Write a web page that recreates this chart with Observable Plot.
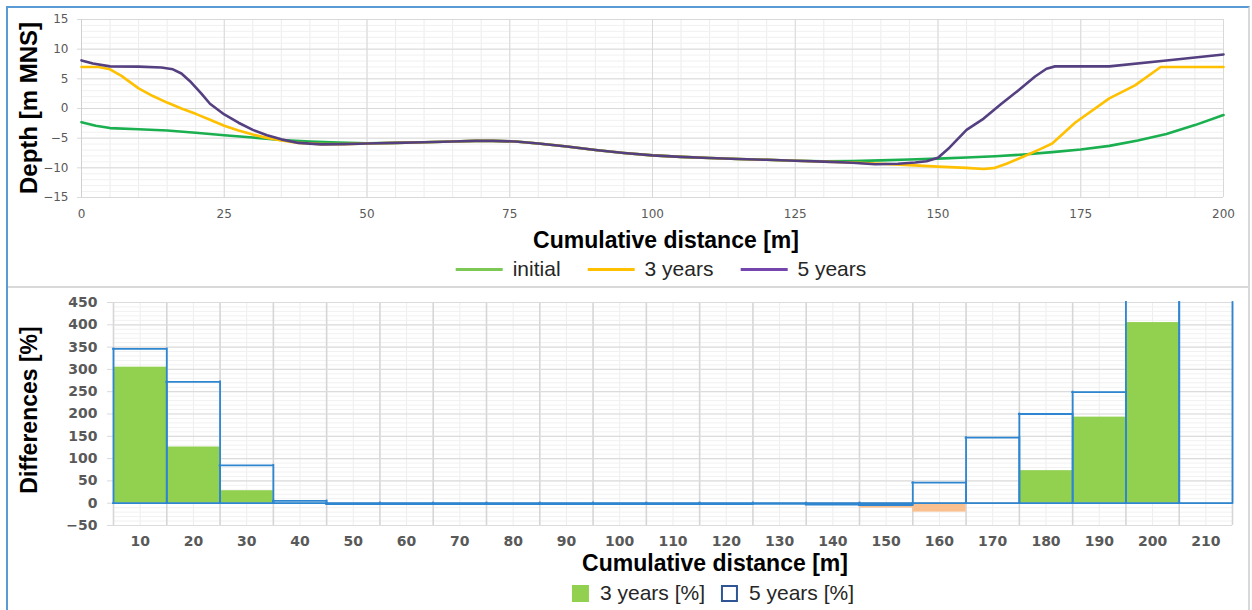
<!DOCTYPE html>
<html><head><meta charset="utf-8">
<script src="https://cdn.jsdelivr.net/npm/d3@7"></script>
<script src="https://cdn.jsdelivr.net/npm/@observablehq/plot@0.6"></script>
<style>
body{margin:0;background:#fff;width:1252px;height:610px;overflow:hidden;position:relative;font-family:"Liberation Sans",Arial,sans-serif;color:#000;}
.abs{position:absolute;}
.ytitle{position:absolute;transform:translate(-50%,-50%) rotate(-90deg);white-space:nowrap;font-weight:bold;}
.xtitle{position:absolute;transform:translate(-50%,-50%);white-space:nowrap;font-weight:bold;font-size:23px;}
.legend{position:absolute;transform:translate(-50%,-50%);display:flex;align-items:center;white-space:nowrap;font-size:21px;color:#262626;}
.legend .item{display:flex;align-items:center;}
.sw-line{display:inline-block;width:47px;height:3px;margin-right:10px;}
.sw-box{display:inline-block;width:17px;height:17px;box-sizing:border-box;margin-right:11px;}
</style></head><body>
<div class="abs" style="left:6px;top:6px;width:1240px;height:620px;border-left:2px solid #5b9bd5;border-top:2px solid #5b9bd5;border-right:2px solid #d9d9d9;"></div>
<div class="abs" style="left:8px;top:286px;width:1240px;height:2px;background:#d9d9d9;"></div>
<div id="top" class="abs" style="left:0;top:0"></div>
<div id="bottom" class="abs" style="left:0;top:290px"></div>
<div class="ytitle" style="left:29px;top:108px;font-size:24px">Depth [m MNS]</div>
<div class="xtitle" style="left:666px;top:240px">Cumulative distance [m]</div>
<div class="legend" style="left:661px;top:269px">
  <div class="item"><span class="sw-line" style="background:#7dc855"></span>initial</div>
  <div class="item" style="margin-left:27px"><span class="sw-line" style="background:#ffc000"></span>3 years</div>
  <div class="item" style="margin-left:27px"><span class="sw-line" style="background:#7446ad"></span>5 years</div>
</div>
<div class="ytitle" style="left:29px;top:410px;font-size:23px">Differences [%]</div>
<div class="xtitle" style="left:715px;top:563px">Cumulative distance [m]</div>
<div class="legend" style="left:713px;top:593px">
  <div class="item"><span class="sw-box" style="background:#92d050"></span>3 years [%]</div>
  <div class="item" style="margin-left:16px"><span class="sw-box" style="border:2px solid #2f5597;background:#fff"></span>5 years [%]</div>
</div>
<script>
// ---------- Top chart data ----------
const xTicksTop = [0, 25, 50, 75, 100, 125, 150, 175, 200];
const yTicksTop = [-15, -10, -5, 0, 5, 10, 15];

const initialDist  = [0, 2.5, 5, 10, 15, 20, 25, 30, 35, 40, 45, 50, 55, 60, 65, 69, 72, 76, 80, 85, 90, 95, 100, 105, 110, 115, 120, 125, 130, 135, 140, 145, 150, 155, 160, 165, 170, 175, 180, 185, 190, 195, 200];
const initialDepth = [-2.3, -2.9, -3.3, -3.5, -3.7, -4.1, -4.5, -4.9, -5.3, -5.55, -5.75, -5.85, -5.8, -5.7, -5.55, -5.45, -5.45, -5.56, -5.9, -6.4, -7.0, -7.5, -7.9, -8.15, -8.35, -8.5, -8.65, -8.8, -8.9, -8.85, -8.75, -8.6, -8.45, -8.25, -8.05, -7.75, -7.35, -6.9, -6.3, -5.4, -4.3, -2.8, -1.1];

const y3Dist  = [0, 3, 5, 7, 10, 12.5, 15, 17.5, 20, 22.5, 25, 27.5, 30, 32.5, 35, 38, 42, 46, 50, 55, 60, 65, 69, 72, 76, 80, 85, 90, 95, 100, 105, 110, 115, 120, 125, 130, 135, 140, 145, 150, 155, 158, 160, 162, 165, 168, 170, 174, 180, 184.5, 189, 200];
const y3Depth = [7.0, 7.0, 6.6, 5.5, 3.4, 2.1, 1.0, 0, -0.9, -1.9, -2.9, -3.7, -4.4, -4.95, -5.4, -5.8, -6.0, -6.0, -5.9, -5.8, -5.7, -5.55, -5.45, -5.45, -5.56, -5.9, -6.4, -7.0, -7.5, -7.9, -8.15, -8.35, -8.5, -8.65, -8.8, -8.95, -9.1, -9.3, -9.55, -9.8, -10.0, -10.2, -10.0, -9.3, -8.1, -6.8, -5.9, -2.4, 1.7, 3.9, 7.0, 7.0];

const y5Dist  = [0, 2, 5, 10, 14, 16, 17.5, 19, 21, 22.5, 25, 27.5, 30, 32.5, 35, 38, 42, 46, 50, 55, 60, 65, 69, 72, 76, 80, 85, 90, 95, 100, 105, 110, 115, 120, 125, 130, 135, 139, 143, 146, 148, 150, 152, 155, 158, 161, 164, 167, 169, 170.5, 180, 190, 200];
const y5Depth = [8.1, 7.6, 7.1, 7.05, 6.9, 6.6, 5.9, 4.6, 2.5, 0.8, -1.0, -2.4, -3.6, -4.5, -5.2, -5.8, -6.05, -6.0, -5.9, -5.8, -5.7, -5.55, -5.45, -5.45, -5.56, -5.9, -6.4, -7.0, -7.5, -7.9, -8.15, -8.35, -8.5, -8.65, -8.8, -8.95, -9.15, -9.4, -9.3, -9.1, -8.9, -8.3, -6.6, -3.6, -1.7, 0.7, 3.0, 5.4, 6.7, 7.1, 7.1, 8.1, 9.1];

const seriesColors = {initial: "#1aaf4f", "3 years": "#ffc000", "5 years": "#543f80"};

function toRows(name, xs, ys) { return xs.map((x, i) => ({series: name, dist: x, depth: ys[i]})); }
const initialRows = toRows("initial", initialDist, initialDepth);
const y3Rows = toRows("3 years", y3Dist, y3Depth);
const y5Rows = toRows("5 years", y5Dist, y5Depth);

// ---------- Bottom chart data ----------
const distCats = [10, 20, 30, 40, 50, 60, 70, 80, 90, 100, 110, 120, 130, 140, 150, 160, 170, 180, 190, 200, 210];
const diff3 = [305, 126, 28, 0, 0, 0, 0, 0, 0, 0, 0, 0, 0, -2, -11, -20, -2, 73, 193, 405, 0];
const diff5 = [346, 272, 85, 5, -2, -2, -2, -2, -2, -2, -2, -2, -1.5, -3, -4, 46, 147, 200, 249, 520, 560];
const yTicksBottom = [-50, 0, 50, 100, 150, 200, 250, 300, 350, 400, 450];
const yMaxBottom = 450;

const rows3 = distCats.map((d, i) => ({d, v: diff3[i]}));
const rows5 = distCats.map((d, i) => ({d, v: diff5[i]}));
const lastCat = distCats[distCats.length - 1];

const lineOpts = {x: "dist", y: "depth", strokeWidth: 2.6, strokeLinejoin: "round", strokeLinecap: "round"};

const topPlot = Plot.plot({
  width: 1252, height: 290,
  marginLeft: 81, marginRight: 29, marginTop: 19, marginBottom: 93,
  x: {domain: [0, 200]},
  y: {domain: [-15, 15]},
  style: {fontFamily: "DejaVu Sans", fontSize: "12px", color: "#595959", background: "transparent", overflow: "visible"},
  marks: [
    Plot.gridX(d3.range(0, 201, 5), {stroke: "#ececec", strokeOpacity: 1}),
    Plot.gridY(d3.range(-15, 16, 1), {stroke: "#f1f1f1", strokeOpacity: 1}),
    Plot.gridX(xTicksTop, {stroke: "#d9d9d9", strokeOpacity: 1}),
    Plot.gridY(yTicksTop, {stroke: "#d9d9d9", strokeOpacity: 1}),
    Plot.ruleX([0], {stroke: "#d0d0d0"}),
    Plot.axisX(xTicksTop, {tickSize: 0, tickPadding: 12, label: null}),
    Plot.axisY(yTicksTop, {tickSize: 4, tickPadding: 9, label: null, stroke: "#d9d9d9"}),
    Plot.line(initialRows, {...lineOpts, stroke: seriesColors.initial}),
    Plot.line(y3Rows, {...lineOpts, stroke: seriesColors["3 years"]}),
    Plot.line(y5Rows, {...lineOpts, stroke: seriesColors["5 years"]})
  ]
});
document.getElementById("top").appendChild(topPlot);

const barBlue = "#2e86d1";
const outlineStyle = {stroke: barBlue, strokeWidth: 1.8, strokeLinecap: "square"};
const capped = d => Math.min(d.v, yMaxBottom);

const bottomPlot = Plot.plot({
  width: 1252, height: 320,
  marginLeft: 113, marginRight: 20, marginTop: 12, marginBottom: 85,
  x: {domain: [5, 215]},
  y: {domain: [-50, 450]},
  style: {fontFamily: "DejaVu Sans", fontSize: "14px", color: "#595959", background: "transparent", overflow: "visible"},
  marks: [
    Plot.gridX(distCats, {stroke: "#ededed", strokeOpacity: 1}),
    Plot.gridY(d3.range(-50, 451, 10), {stroke: "#f1f1f1", strokeOpacity: 1}),
    Plot.gridX(distCats.map(d => d - 5).concat([lastCat + 5]), {stroke: "#d6d6d6", strokeOpacity: 1, strokeWidth: 1.6}),
    Plot.gridY(yTicksBottom, {stroke: "#dcdcdc", strokeOpacity: 1, strokeWidth: 1.2}),
    Plot.ruleY([0], {stroke: "#c8c8c8", strokeWidth: 1.4}),
    Plot.axisX(distCats, {tickSize: 0, tickPadding: 11, label: null, fontWeight: "bold"}),
    Plot.axisY(yTicksBottom, {tickSize: 6, tickPadding: 10, label: null, stroke: "#d9d9d9", fontWeight: "bold"}),
    // 3 years: filled bars (orange when negative)
    Plot.rectY(rows3, {x1: d => d.d - 5, x2: d => d.d + 5, y1: 0, y2: "v", fill: d => d.v < 0 ? "#fac08f" : "#92d050", clip: true}),
    // 5 years: outlined bars (edges drawn as rules so bars taller than the axis stay open at the top)
    Plot.ruleY(rows5, {x1: d => d.d - 5, x2: d => d.d + 5, y: 0, ...outlineStyle}),
    Plot.ruleY(rows5.filter(d => d.v <= yMaxBottom), {x1: d => d.d - 5, x2: d => d.d + 5, y: "v", ...outlineStyle}),
    Plot.ruleX(rows5, {x: d => d.d - 5, y1: 0, y2: capped, ...outlineStyle}),
    Plot.ruleX(rows5, {x: d => d.d + 5, y1: 0, y2: capped, ...outlineStyle})
  ]
});
document.getElementById("bottom").appendChild(bottomPlot);
</script>
</body></html>
